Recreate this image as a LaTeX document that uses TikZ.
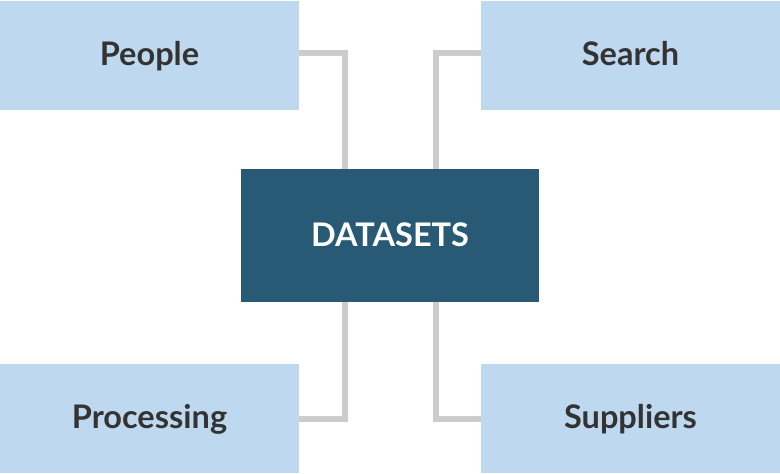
\documentclass[tikz,border=0pt]{standalone}
\usepackage{fontspec}
\setmainfont{Lato}
\definecolor{lightbox}{RGB}{190,216,239}
\definecolor{darkbox}{RGB}{41,90,117}
\definecolor{conngray}{RGB}{204,204,204}
\definecolor{txt}{RGB}{51,51,51}
\begin{document}
\begin{tikzpicture}[x=1pt,y=-1pt,
  boxfont/.style={font=\fontsize{32.5}{36}\selectfont\bfseries,text height=23.3pt},
  lbox/.style={rectangle,fill=lightbox,minimum width=299pt,minimum height=109pt,inner sep=0pt,
    text=txt,boxfont,text depth=4pt},
  dbox/.style={rectangle,fill=darkbox,minimum width=298pt,minimum height=133pt,inner sep=0pt,
    text=white,boxfont,text depth=1pt},
  conn/.style={draw=conngray,line width=6pt}]
\useasboundingbox[fill=white] (0,0) rectangle (780,474);
\node[lbox] (people) at (149.5,55.5) {People};
\node[lbox] (search) at (630.5,55.5) {Search};
\node[lbox] (proc) at (149.5,418.5) {Processing};
\node[lbox] (supp) at (630.5,418.5) {Suppliers};
\node[dbox] (data) at (390,235.5) {DATASETS};
\draw[conn] ([yshift=2.5pt]people.east) -| ([xshift=-45.5pt]data.north);
\draw[conn] ([yshift=2.5pt]search.west) -| ([xshift=46pt]data.north);
\draw[conn] ([xshift=-45.5pt]data.south) |- (proc.east);
\draw[conn] ([xshift=46pt]data.south) |- (supp.west);
\end{tikzpicture}
\end{document}
